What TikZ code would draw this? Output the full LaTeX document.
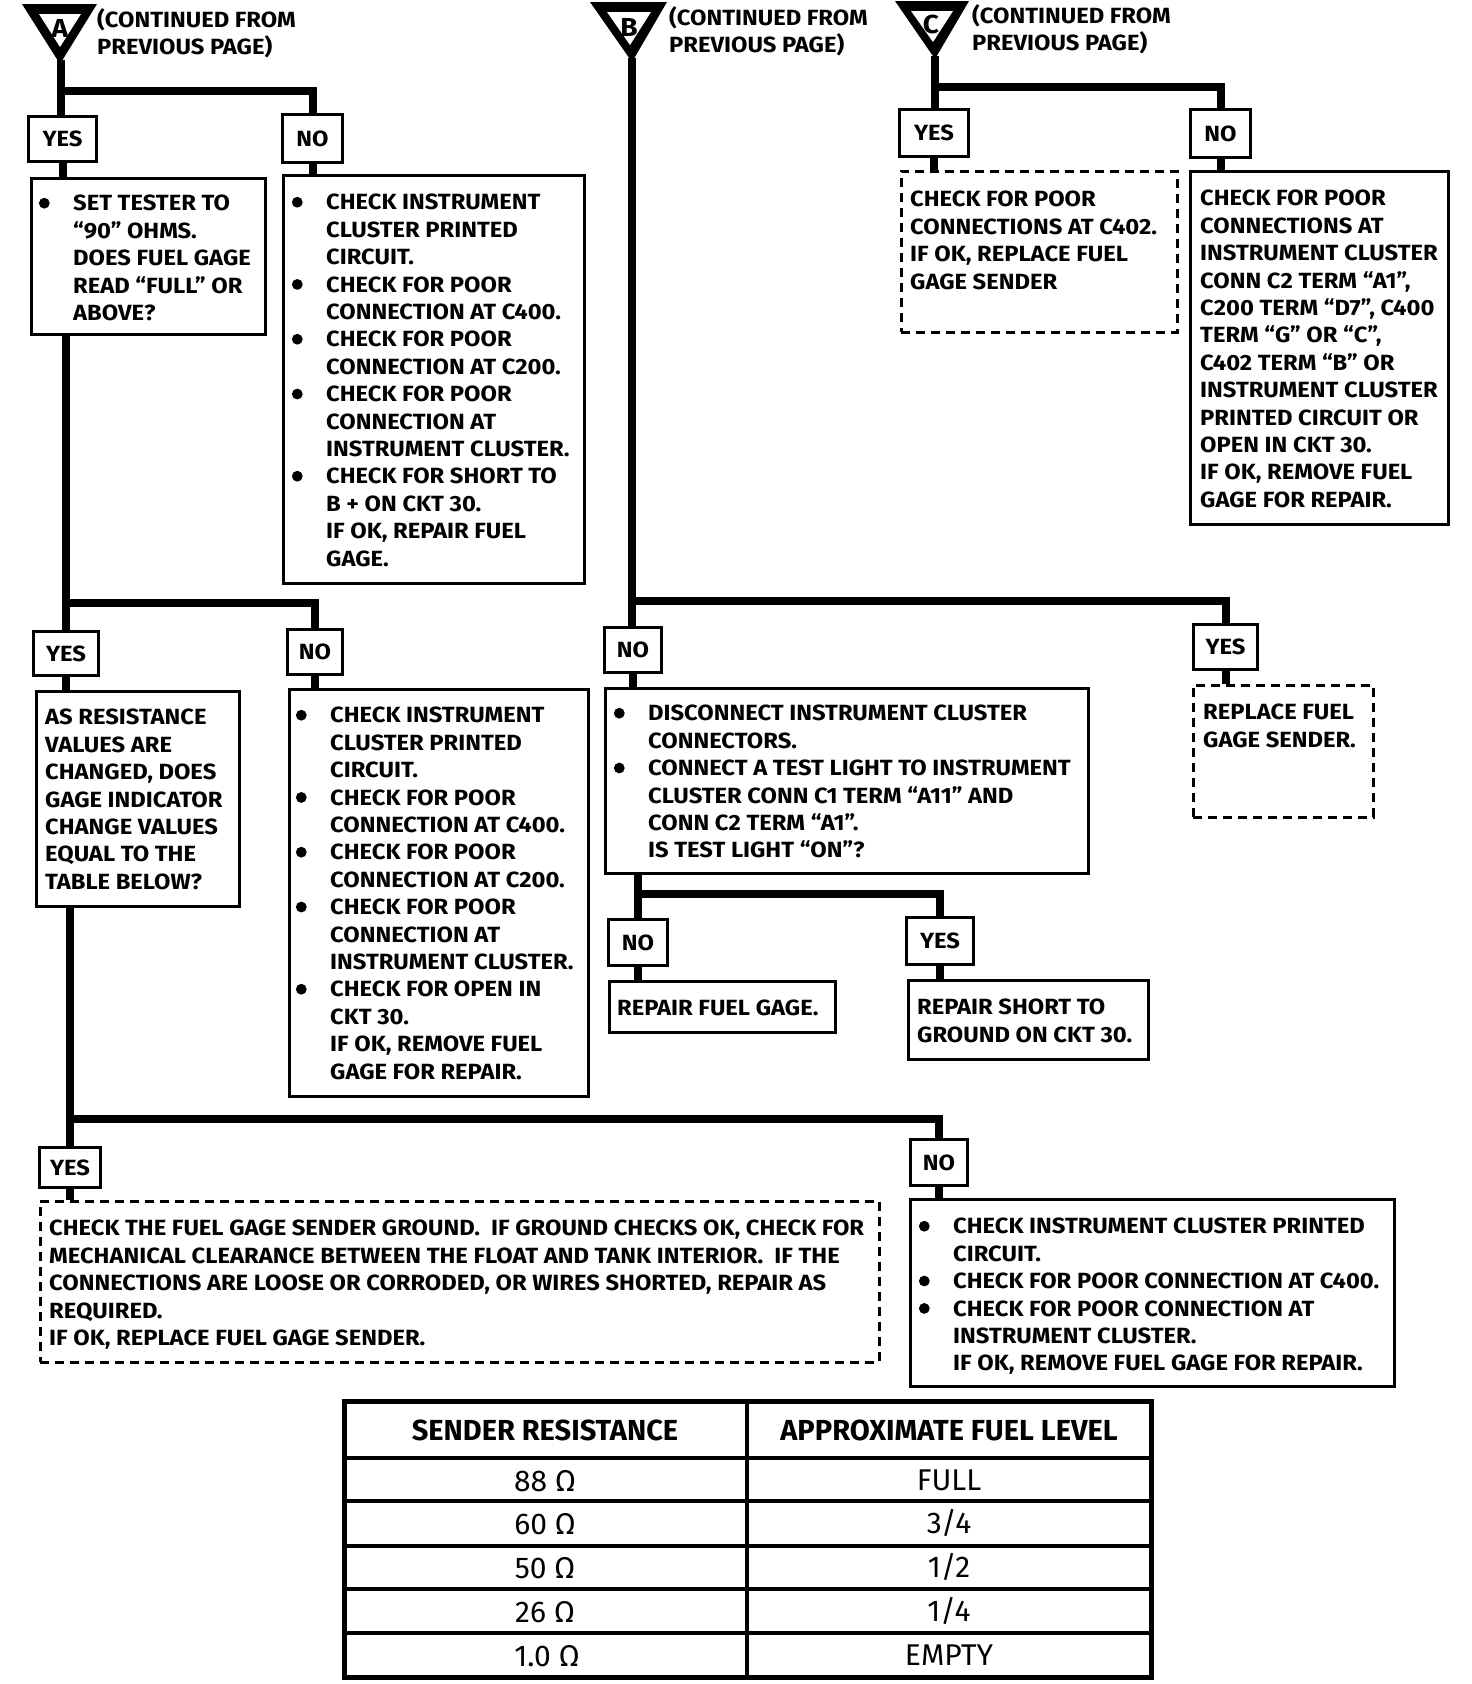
\documentclass[tikz,border=0pt]{standalone}
\usepackage{fontspec}
\setmainfont{Fira Sans}
\newfontfamily\dfont[FakeStretch=1.08]{Fira Sans}
\newfontfamily\tfont[FakeStretch=1.0]{Fira Sans}
\newcommand\bdot{\raisebox{2.2pt}{\tikz\fill (0,0) circle (5.4pt);}}
\newcommand\bul{\llap{\bdot\hspace{23.5pt}}}
\tikzset{
  conn/.style={line width=8pt},
  bx/.style={draw, line width=3pt, inner sep=0pt, anchor=north west},
  dbx/.style={draw, line width=2.5pt, dash pattern=on 9pt off 6pt, inner sep=0pt, anchor=north west},
  lbl/.style={draw, line width=3pt, inner sep=0pt, anchor=north west, font=\dfont\bfseries\fontsize{22}{27.4}\selectfont},
  txt/.style={inner sep=0pt, anchor=north west, align=left, font=\dfont\bfseries\fontsize{22}{27.4}\selectfont},
  tri/.style={fill=black},
  trl/.style={inner sep=0pt, font=\dfont\bfseries\fontsize{26}{26}\selectfont},
  tabt/.style={inner sep=0pt, font=\tfont\fontsize{30}{32}\selectfont},
  tabh/.style={inner sep=0pt, font=\tfont\bfseries\fontsize{29}{32}\selectfont},
}
\begin{document}
\begin{tikzpicture}[x=1pt,y=-1pt]
\useasboundingbox (0,0) rectangle (1472,1684);
\fill[white] (0,0) rectangle (1472,1684);

% ---------- triangles ----------
\fill[tri] (22,4) -- (97,4) -- (60,64) -- cycle;
\fill[white] (39,14) -- (81,14) -- (60,47) -- cycle;
\node[trl] (lA) at (60,28) {A};
\coordinate (aA) at (61,60);
\node[txt] (tA) at (97,8) {(CONTINUED FROM\\PREVIOUS PAGE)};

\fill[tri] (590,2) -- (667,2) -- (632,62) -- cycle;
\fill[white] (607,12) -- (651,12) -- (630,45) -- cycle;
\node[trl] (lB) at (629,27) {B};
\coordinate (aB) at (632,58);
\node[txt] (tB) at (669,6) {(CONTINUED FROM\\PREVIOUS PAGE)};

\fill[tri] (895,1) -- (969,1) -- (935,59) -- cycle;
\fill[white] (911,11) -- (953,11) -- (933,42) -- cycle;
\node[trl] (lC) at (931,24) {C};
\coordinate (aC) at (935,56);
\node[txt] (tC) at (972,4) {(CONTINUED FROM\\PREVIOUS PAGE)};

% ---------- A column ----------
\node[lbl, minimum width=68pt, minimum height=45pt] (y1) at (27,115) {YES};
\node[lbl, minimum width=60pt, minimum height=48pt] (n1) at (281,113) {NO};
\node[bx, minimum width=234pt, minimum height=156pt] (b1) at (30,177) {};
\node[txt] (t1) at (73,195) {\bul SET TESTER TO\\“90” OHMS.\\DOES FUEL GAGE\\READ “FULL” OR\\ABOVE?};
\node[bx, minimum width=301pt, minimum height=408pt] (b2) at (282,174) {};
\node[txt] (t2) at (326,194) {\bul CHECK INSTRUMENT\\CLUSTER PRINTED\\CIRCUIT.\\\bul CHECK FOR POOR\\CONNECTION AT C400.\\\bul CHECK FOR POOR\\CONNECTION AT C200.\\\bul CHECK FOR POOR\\CONNECTION AT\\INSTRUMENT CLUSTER.\\\bul CHECK FOR SHORT TO\\B + ON CKT 30.\\IF OK, REPAIR FUEL\\GAGE.};

\node[lbl, minimum width=65pt, minimum height=44pt] (y2) at (32,630) {YES};
\node[lbl, minimum width=55pt, minimum height=45pt] (n2) at (286,628) {NO};
\node[bx, minimum width=203pt, minimum height=215pt] (b3) at (35,690) {};
\node[txt] (t3) at (45,709) {AS RESISTANCE\\VALUES ARE\\CHANGED, DOES\\GAGE INDICATOR\\CHANGE VALUES\\EQUAL TO THE\\TABLE BELOW?};
\node[bx, minimum width=299pt, minimum height=407pt] (b4) at (288,688) {};
\node[txt] (t4) at (330,707) {\bul CHECK INSTRUMENT\\CLUSTER PRINTED\\CIRCUIT.\\\bul CHECK FOR POOR\\CONNECTION AT C400.\\\bul CHECK FOR POOR\\CONNECTION AT C200.\\\bul CHECK FOR POOR\\CONNECTION AT\\INSTRUMENT CLUSTER.\\\bul CHECK FOR OPEN IN\\CKT 30.\\IF OK, REMOVE FUEL\\GAGE FOR REPAIR.};

\node[lbl, minimum width=61pt, minimum height=40pt] (y3) at (38,1146) {YES};
\node[lbl, minimum width=57pt, minimum height=46pt] (n3) at (909,1138) {NO};
\node[dbx, minimum width=839pt, minimum height=161pt] (b5) at (39,1200) {};
\node[txt] (t5) at (49,1220) {CHECK THE FUEL GAGE SENDER GROUND.\ \ IF GROUND CHECKS OK, CHECK FOR\\MECHANICAL CLEARANCE BETWEEN THE FLOAT AND TANK INTERIOR.\ \ IF THE\\CONNECTIONS ARE LOOSE OR CORRODED, OR WIRES SHORTED, REPAIR AS\\REQUIRED.\\IF OK, REPLACE FUEL GAGE SENDER.};
\node[bx, minimum width=484pt, minimum height=187pt] (b6) at (909,1198) {};
\node[txt] (t6) at (953,1218) {\bul CHECK INSTRUMENT CLUSTER PRINTED\\CIRCUIT.\\\bul CHECK FOR POOR CONNECTION AT C400.\\\bul CHECK FOR POOR CONNECTION AT\\INSTRUMENT CLUSTER.\\IF OK, REMOVE FUEL GAGE FOR REPAIR.};

% ---------- B column ----------
\node[lbl, minimum width=57pt, minimum height=45pt] (n4) at (603,626) {NO};
\node[lbl, minimum width=64pt, minimum height=45pt] (y4) at (1192,623) {YES};
\node[bx, minimum width=483pt, minimum height=185pt] (b7) at (604,687) {};
\node[txt] (t7) at (648,705) {\bul DISCONNECT INSTRUMENT CLUSTER\\CONNECTORS.\\\bul CONNECT A TEST LIGHT TO INSTRUMENT\\CLUSTER CONN C1 TERM “A11” AND\\CONN C2 TERM “A1”.\\IS TEST LIGHT “ON”?};
\node[dbx, minimum width=180pt, minimum height=132pt] (b8) at (1192,684) {};
\node[txt] (t8) at (1203,704) {REPLACE FUEL\\GAGE SENDER.};
\node[lbl, minimum width=59pt, minimum height=46pt] (n5) at (607,918) {NO};
\node[lbl, minimum width=67pt, minimum height=47pt] (y5) at (905,916) {YES};
\node[bx, minimum width=226pt, minimum height=51pt] (b9) at (608,980) {};
\node[txt] (t9) at (617,1000) {REPAIR FUEL GAGE.};
\node[bx, minimum width=240pt, minimum height=79pt] (b10) at (907,979) {};
\node[txt] (t10) at (917,999) {REPAIR SHORT TO\\GROUND ON CKT 30.};

% ---------- C column ----------
\node[lbl, minimum width=69pt, minimum height=47pt] (y6) at (898,108) {YES};
\node[lbl, minimum width=60pt, minimum height=48pt] (n6) at (1189,108) {NO};
\node[dbx, minimum width=276pt, minimum height=161pt] (b11) at (900,170) {};
\node[txt] (t11) at (910,191) {CHECK FOR POOR\\CONNECTIONS AT C402.\\IF OK, REPLACE FUEL\\GAGE SENDER};
\node[bx, minimum width=258pt, minimum height=353pt] (b12) at (1189,170) {};
\node[txt] (t12) at (1200,190) {CHECK FOR POOR\\CONNECTIONS AT\\INSTRUMENT CLUSTER\\CONN C2 TERM “A1”,\\C200 TERM “D7”, C400\\TERM “G” OR “C”,\\C402 TERM “B” OR\\INSTRUMENT CLUSTER\\PRINTED CIRCUIT OR\\OPEN IN CKT 30.\\IF OK, REMOVE FUEL\\GAGE FOR REPAIR.};

% ---------- connectors ----------
\coordinate (jA1) at (61,91);
\coordinate (jA2) at (64,603);
\coordinate (jA3) at (68,1119);
\coordinate (jB1) at (632,601);
\coordinate (jB2) at (636,894);
\coordinate (jC1) at (935,87);

\draw[conn] (aA) -- (y1.north -| aA);
\draw[conn] (jA1) -| (n1.north);
\draw[conn] (y1.south) -- (y1.south |- b1.north);
\draw[conn] (n1.south) -- (n1.south |- b2.north);
\draw[conn] (y2.north |- b1.south) -- (y2.north);
\draw[conn] (jA2) -| (n2.north);
\draw[conn] (y2.south) -- (y2.south |- b3.north);
\draw[conn] (n2.south) -- (n2.south |- b4.north);
\draw[conn] (y3.north |- b3.south) -- (y3.north);
\draw[conn] (jA3) -| (n3.north);
\draw[conn] (y3.south) -- (y3.south |- b5.north);
\draw[conn] (n3.south) -- (n3.south |- b6.north);

\draw[conn] (aB) -- (n4.north -| aB);
\draw[conn] (jB1) -| (y4.north);
\draw[conn] (n4.south) -- (n4.south |- b7.north);
\draw[conn] (y4.south) -- (y4.south |- b8.north);
\draw[conn] (n5.north |- b7.south) -- (n5.north);
\draw[conn] (jB2) -| (y5.north);
\draw[conn] (n5.south) -- (n5.south |- b9.north);
\draw[conn] (y5.south) -- (y5.south |- b10.north);

\draw[conn] (aC) -- (y6.north -| aC);
\draw[conn] (jC1) -| (n6.north);
\draw[conn] (y6.south) -- (y6.south |- b11.north);
\draw[conn] (n6.south) -- (n6.south |- b12.north);

% ---------- table ----------
\draw[line width=5pt] (344,1401) rectangle (1151,1677);
\draw[line width=4pt] (747,1401) -- (747,1677);
\foreach \yy in {1458,1501,1546,1589,1633} \draw[line width=4pt] (344,\yy) -- (1151,\yy);
\node[tabh] (h1) at (545,1430) {SENDER RESISTANCE};
\node[tabh] (h2) at (949,1430) {APPROXIMATE FUEL LEVEL};
\node[tabt] (r1a) at (545,1481) {88 Ω};
\node[tabt] (r1b) at (949,1480) {FULL};
\node[tabt] (r2a) at (545,1524) {60 Ω};
\node[tabt] (r2b) at (949,1523) {3/4};
\node[tabt] (r3a) at (545,1568) {50 Ω};
\node[tabt] (r3b) at (949,1567) {1/2};
\node[tabt] (r4a) at (545,1612) {26 Ω};
\node[tabt] (r4b) at (949,1611) {1/4};
\node[tabt] (r5a) at (547,1656) {1.0 Ω};
\node[tabt] (r5b) at (949,1655) {EMPTY};
\end{tikzpicture}
\end{document}
